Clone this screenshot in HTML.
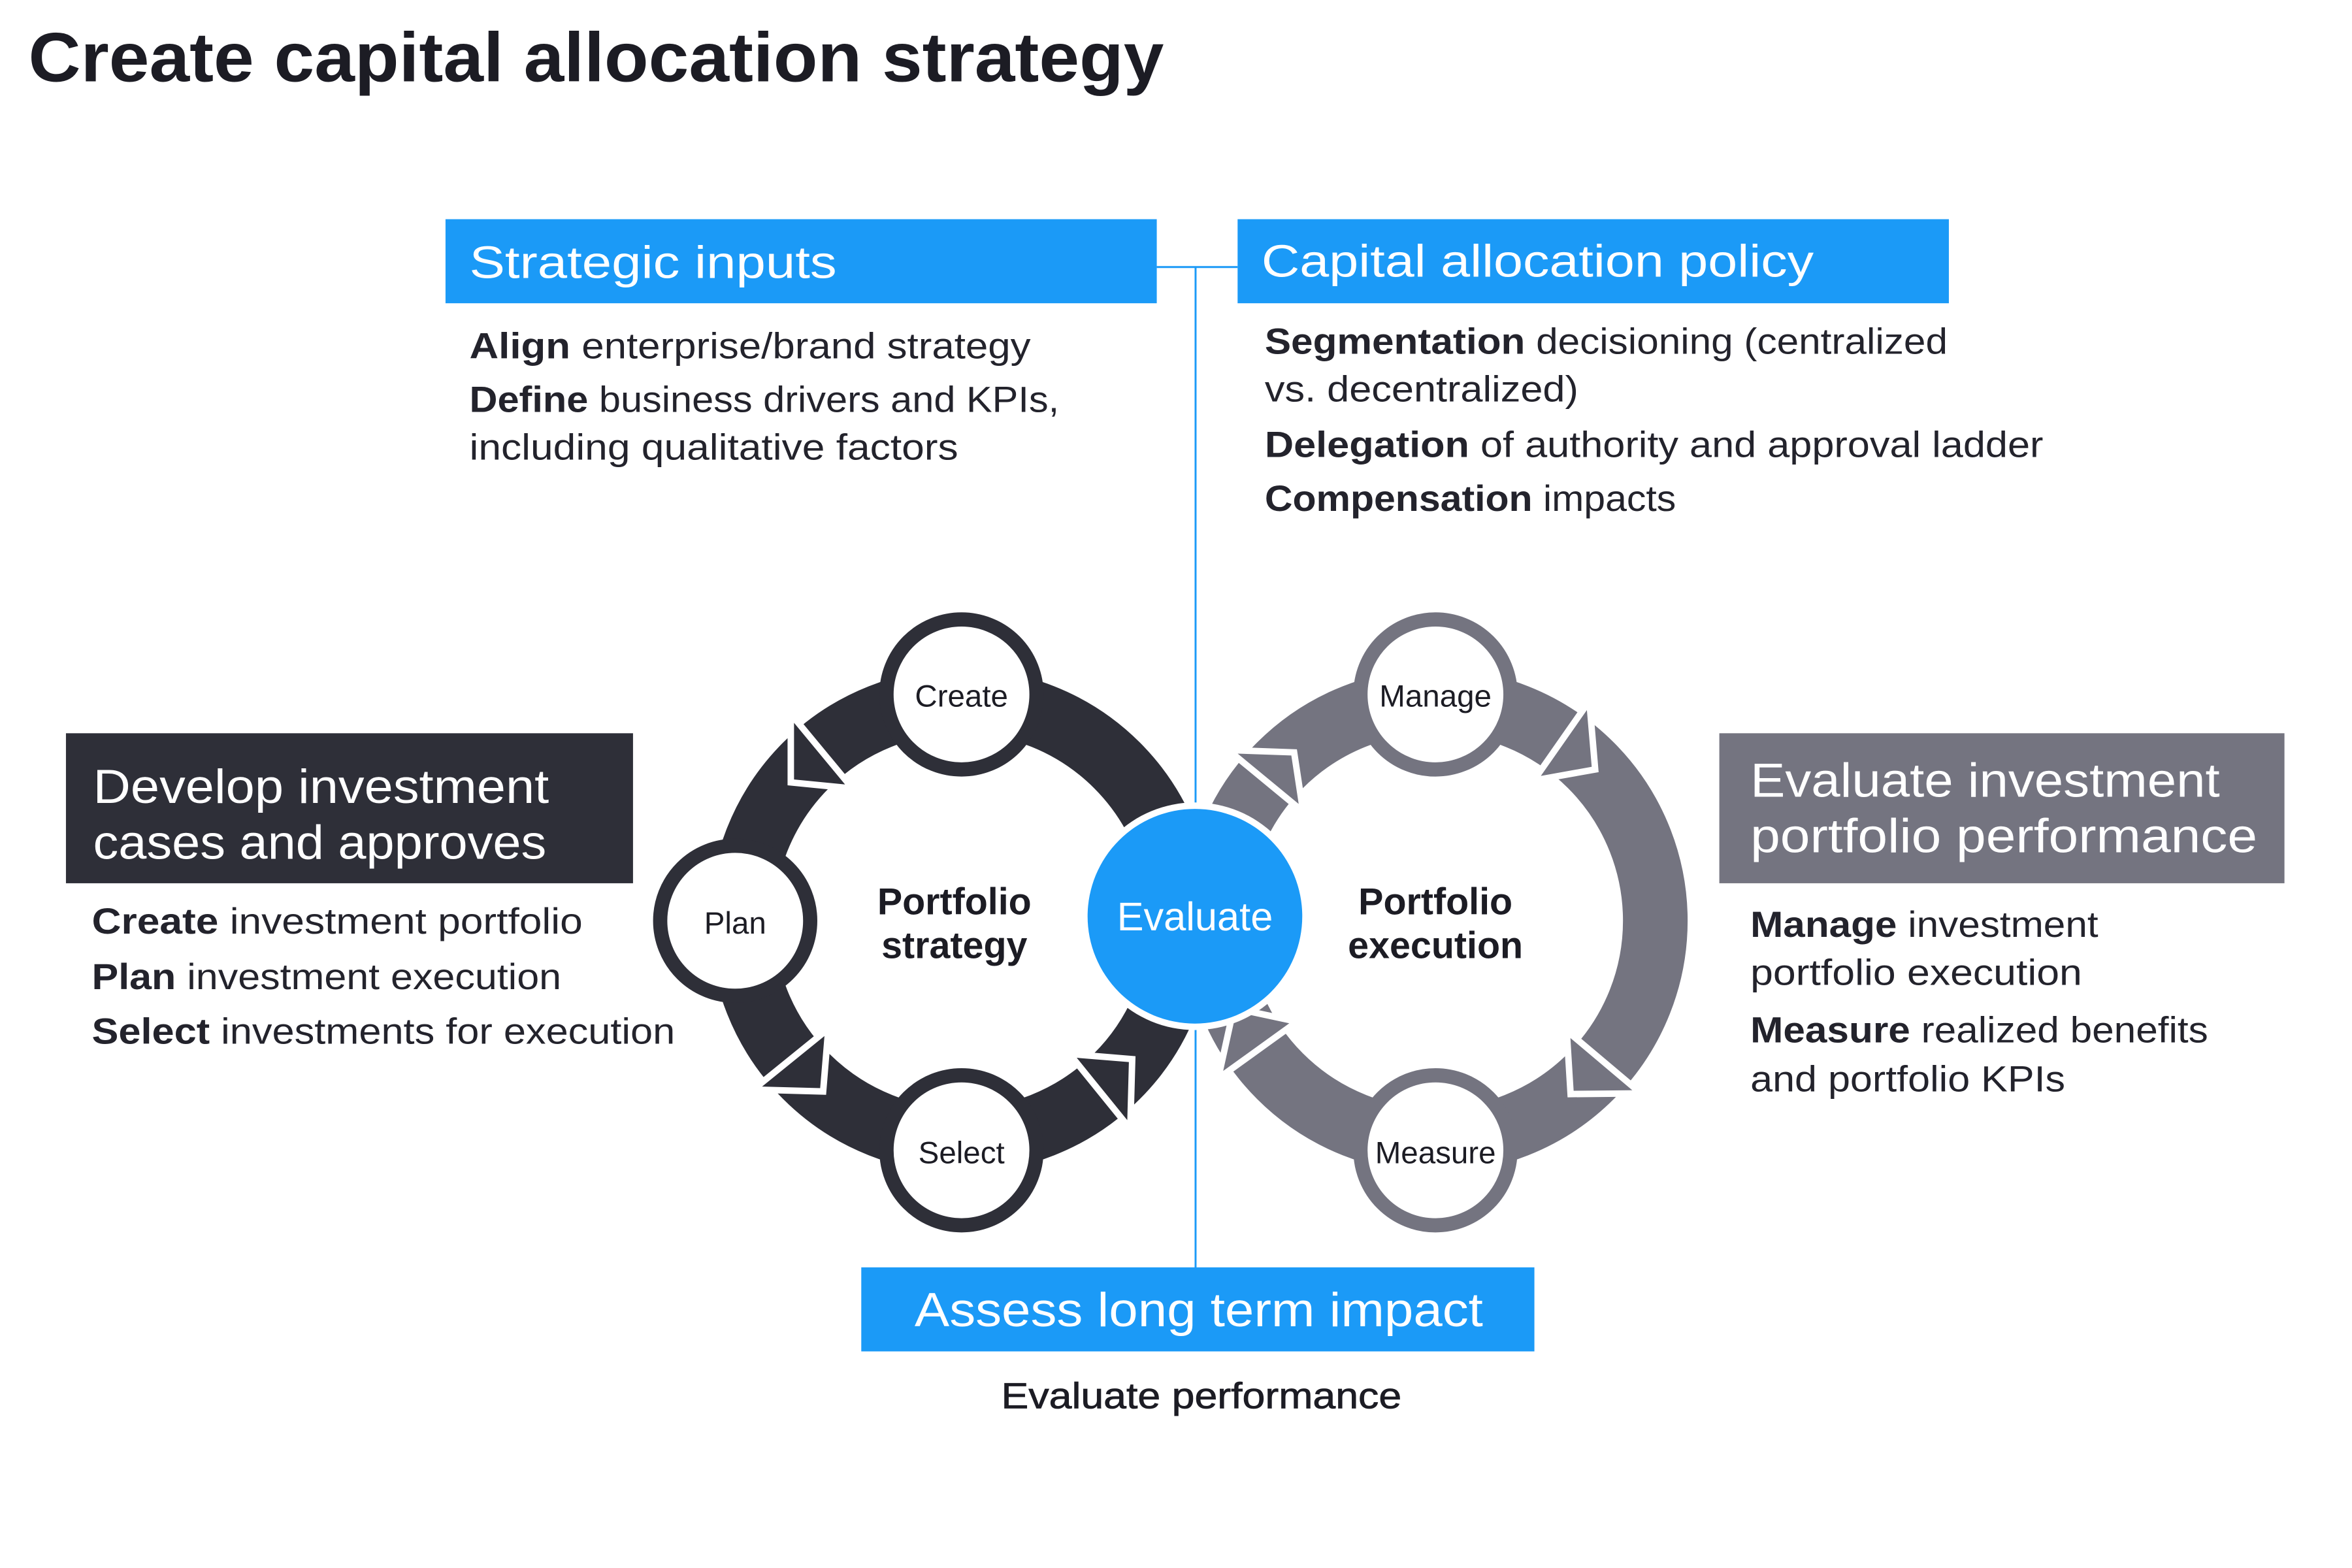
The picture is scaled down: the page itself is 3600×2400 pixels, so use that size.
<!DOCTYPE html>
<html><head><meta charset="utf-8"><style>
html,body{margin:0;padding:0;background:#fff;}
svg{display:block;}
text{font-family:"Liberation Sans",sans-serif;}
.b{font-weight:bold;}
.body{font-size:56px;fill:#23232c;}
.wt{fill:#fff;}
</style></head><body>
<svg width="3600" height="2400" viewBox="0 0 3600 2400" xmlns="http://www.w3.org/2000/svg">
<rect width="3600" height="2400" fill="#fff"/>
<g transform="scale(0.9897)">
<!-- title -->
<text x="44" y="126" font-size="108" font-weight="bold" fill="#1c1c24" textLength="1756" lengthAdjust="spacingAndGlyphs">Create capital allocation strategy</text>

<!-- connector lines -->
<line x1="1789" y1="413" x2="1914" y2="413" stroke="#1b9af7" stroke-width="3"/>
<line x1="1849" y1="413" x2="1849" y2="1962" stroke="#1b9af7" stroke-width="3"/>

<!-- top boxes -->
<rect x="689" y="339" width="1100" height="130" fill="#1b9af7"/>
<text x="726" y="430" font-size="70" class="wt" textLength="568" lengthAdjust="spacingAndGlyphs">Strategic inputs</text>
<rect x="1914" y="339" width="1100" height="130" fill="#1b9af7"/>
<text x="1951" y="428" font-size="70" class="wt" textLength="854" lengthAdjust="spacingAndGlyphs">Capital allocation policy</text>

<text x="726" y="554" class="body" textLength="868" lengthAdjust="spacingAndGlyphs"><tspan class="b">Align</tspan> enterprise/brand strategy</text>
<text x="726" y="637" class="body" textLength="912" lengthAdjust="spacingAndGlyphs"><tspan class="b">Define</tspan> business drivers and KPIs,</text>
<text x="726" y="711" class="body" textLength="756" lengthAdjust="spacingAndGlyphs">including qualitative factors</text>

<text x="1956" y="547" class="body" textLength="1056" lengthAdjust="spacingAndGlyphs"><tspan class="b">Segmentation</tspan> decisioning (centralized</text>
<text x="1956" y="621" class="body" textLength="485" lengthAdjust="spacingAndGlyphs">vs. decentralized)</text>
<text x="1956" y="707" class="body" textLength="1204" lengthAdjust="spacingAndGlyphs"><tspan class="b">Delegation</tspan> of authority and approval ladder</text>
<text x="1956" y="790" class="body" textLength="636" lengthAdjust="spacingAndGlyphs"><tspan class="b">Compensation</tspan> impacts</text>

<!-- left box -->
<rect x="102" y="1134" width="877" height="232" fill="#2e2f38"/>
<text x="144" y="1242" font-size="74" class="wt" textLength="705" lengthAdjust="spacingAndGlyphs">Develop investment</text>
<text x="144" y="1328" font-size="74" class="wt" textLength="701" lengthAdjust="spacingAndGlyphs">cases and approves</text>
<text x="142" y="1444" class="body" textLength="759" lengthAdjust="spacingAndGlyphs"><tspan class="b">Create</tspan> investment portfolio</text>
<text x="142" y="1530" class="body" textLength="726" lengthAdjust="spacingAndGlyphs"><tspan class="b">Plan</tspan> investment execution</text>
<text x="142" y="1614" class="body" textLength="902" lengthAdjust="spacingAndGlyphs"><tspan class="b">Select</tspan> investments for execution</text>

<!-- right box -->
<rect x="2659" y="1134" width="874" height="232" fill="#747480"/>
<text x="2707" y="1232" font-size="74" class="wt" textLength="726" lengthAdjust="spacingAndGlyphs">Evaluate investment</text>
<text x="2707" y="1318" font-size="74" class="wt" textLength="784" lengthAdjust="spacingAndGlyphs">portfolio performance</text>
<text x="2707" y="1449" class="body" textLength="538" lengthAdjust="spacingAndGlyphs"><tspan class="b">Manage</tspan> investment</text>
<text x="2707" y="1523" class="body" textLength="513" lengthAdjust="spacingAndGlyphs">portfolio execution</text>
<text x="2707" y="1612" class="body" textLength="708" lengthAdjust="spacingAndGlyphs"><tspan class="b">Measure</tspan> realized benefits</text>
<text x="2707" y="1688" class="body" textLength="487" lengthAdjust="spacingAndGlyphs">and portfolio KPIs</text>

<!-- bottom box -->
<rect x="1332" y="1960" width="1041" height="130" fill="#1b9af7"/>
<text x="1854" y="2051" font-size="74" class="wt" text-anchor="middle" textLength="879" lengthAdjust="spacingAndGlyphs">Assess long term impact</text>
<text x="1858" y="2178" font-size="56" fill="#1c1c24" stroke="#1c1c24" stroke-width="0.8" text-anchor="middle" textLength="619" lengthAdjust="spacingAndGlyphs">Evaluate performance</text>

<!-- left ring -->
<circle cx="1487" cy="1424" r="340" fill="none" stroke="#2e2f38" stroke-width="100"/>
<g fill="#2e2f38" stroke="#fff" stroke-width="10" stroke-linejoin="miter">
<polygon points="1318.5,1219.4 1223,1104 1223,1210"/>
<polygon points="1281,1591 1165,1685 1273,1688"/>
<polygon points="1654,1630 1748,1746 1751,1638"/>
</g>
<!-- right ring -->
<circle cx="2220" cy="1424" r="340" fill="none" stroke="#747480" stroke-width="100"/>
<g fill="#747480" stroke="#fff" stroke-width="10">
<polygon points="2015.4,1255.5 1899.6,1160 2001.4,1163.6"/>
<polygon points="2372,1207 2458,1084 2467,1190"/>
<polygon points="2423,1594 2538,1691 2429,1692"/>
<polygon points="2006,1580 1884,1668 1908,1559"/>
</g>

<!-- nodes -->
<g fill="#fff" stroke="#2e2f38" stroke-width="22">
<circle cx="1487" cy="1074" r="116"/>
<circle cx="1137" cy="1424" r="116"/>
<circle cx="1487" cy="1779" r="116"/>
</g>
<g fill="#fff" stroke="#747480" stroke-width="22">
<circle cx="2220" cy="1074" r="116"/>
<circle cx="2220" cy="1779" r="116"/>
</g>
<g font-size="48" fill="#1c1c24" text-anchor="middle">
<text x="1487" y="1093">Create</text>
<text x="1137" y="1444">Plan</text>
<text x="1487" y="1799">Select</text>
<text x="2220" y="1093">Manage</text>
<text x="2220" y="1799">Measure</text>
</g>
<g font-size="58" fill="#1c1c24" text-anchor="middle" font-weight="bold">
<text x="1476" y="1414">Portfolio</text>
<text x="1476" y="1482">strategy</text>
<text x="2220" y="1414">Portfolio</text>
<text x="2220" y="1482">execution</text>
</g>

<!-- evaluate -->
<circle cx="1848" cy="1417" r="176" fill="#fff"/>
<circle cx="1848" cy="1417" r="166" fill="#1b9af7"/>
<text x="1848" y="1439" font-size="62" class="wt" text-anchor="middle">Evaluate</text>
</g>
</svg>
</body></html>
